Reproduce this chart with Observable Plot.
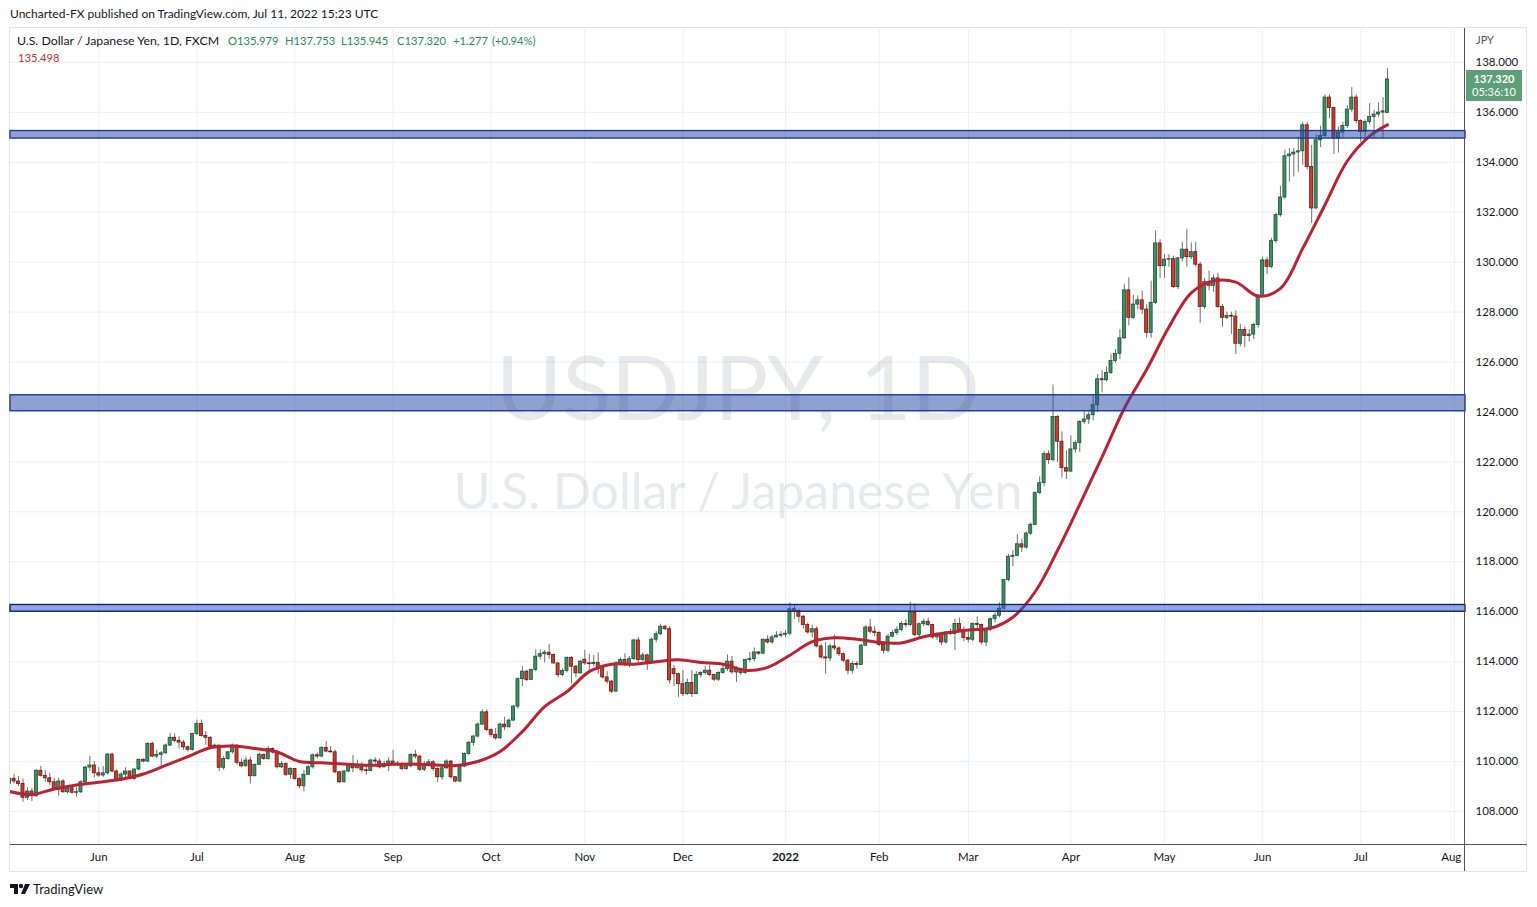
<!DOCTYPE html>
<html><head><meta charset="utf-8">
<script src="https://cdn.jsdelivr.net/npm/d3@7"></script>
<script src="https://cdn.jsdelivr.net/npm/@observablehq/plot@0.6"></script>
<style>
body{margin:0;background:#fff;font-family:Lato,"Open Sans",sans-serif;color:#131722}
#root{position:relative;width:1537px;height:907px;overflow:hidden;background:#fff}
.abs{position:absolute;white-space:nowrap;line-height:14px}
</style></head><body><div id="root">
<div class="abs" style="left:10px;top:7px;font-size:12px;color:#131722">Uncharted-FX published on TradingView.com, Jul 11, 2022 15:23 UTC</div>
<div class="abs" style="left:9px;top:27px;width:1518px;height:845px;border:1px solid #e0e3eb;box-sizing:border-box"></div>
<div id="chart" class="abs" style="left:10px;top:28px"></div>
<div class="abs" style="left:10px;top:844px;width:1517px;height:1px;background:#50535e"></div>
<div class="abs" style="left:1464px;top:28px;width:1px;height:843px;background:#50535e"></div>
<div id="legend"></div>
<div class="abs" style="left:1476px;top:33px;font-size:11px;color:#50535e">JPY</div>
<div id="lastbox" class="abs" style="left:1466px;width:56px;height:31px;background:#5c9f79;color:#fff;font-size:11px;text-align:center;line-height:13px;padding-top:2px;box-sizing:border-box"></div>
<div class="abs" style="left:10px;top:882px;height:14px">
  <svg width="22" height="12" viewBox="0 0 22 12"><path d="M0 1h8v10H4V5H0z" fill="#131722"/><circle cx="11" cy="3" r="2.2" fill="#131722"/><path d="M15 1h5l-5 10h-4z" fill="#131722"/></svg>
</div>
<div class="abs" style="left:33px;top:882px;font-size:13px;color:#131722">TradingView</div>
</div>
<script>
// ---- Daily candles, [open, high, low, close] ----
const may2021 = [[109.11,109.40,109.05,109.31],[109.31,109.48,109.10,109.20],[109.20,109.40,109.00,109.10],[109.10,109.30,108.37,108.55],[108.55,108.95,108.44,108.80],[108.80,108.93,108.40,108.61],[108.61,109.68,108.57,109.63],[109.63,109.81,109.38,109.43],[109.43,109.63,109.17,109.33],[109.33,109.53,109.04,109.17],[109.17,109.33,108.84,108.87],[108.87,109.33,108.61,109.20],[109.20,109.28,108.73,108.77],[108.77,108.96,108.70,108.93],[108.93,108.97,108.70,108.75],[108.75,108.95,108.57,108.77],[108.77,109.24,108.72,109.17],[109.17,109.80,109.10,109.76],[109.76,110.21,109.61,109.84],[109.84,110.00,109.35,109.53]];
const jun2021 = [[109.53,109.76,109.37,109.44],[109.44,109.80,109.37,109.53],[109.53,110.32,109.45,110.28],[110.28,110.33,109.55,109.60],[109.60,109.66,109.18,109.24],[109.24,109.55,109.20,109.48],[109.48,109.75,109.35,109.60],[109.60,109.62,109.26,109.30],[109.30,109.70,109.25,109.68],[109.68,110.10,109.62,110.07],[110.07,110.10,109.95,110.00],[110.00,110.75,109.95,110.71],[110.71,110.78,110.15,110.20],[110.20,110.45,110.12,110.27],[110.27,110.40,109.70,110.33],[110.33,110.70,110.30,110.64],[110.64,111.13,110.60,110.95],[110.95,111.11,110.75,110.83],[110.83,111.00,110.50,110.76],[110.76,110.85,110.45,110.57],[110.57,110.62,110.38,110.47],[110.47,111.13,110.42,111.10]];
const jul2021 = [[111.10,111.66,111.05,111.50],[111.50,111.66,110.98,111.02],[111.02,111.20,110.65,110.95],[110.95,111.00,110.55,110.60],[110.60,110.70,110.50,110.64],[110.64,110.65,109.60,109.75],[109.75,110.20,109.65,110.10],[110.10,110.40,110.05,110.37],[110.37,110.70,110.30,110.64],[110.64,110.67,109.85,109.95],[109.95,110.10,109.75,109.81],[109.81,110.17,109.78,110.04],[110.04,110.17,109.10,109.41],[109.41,109.90,109.40,109.87],[109.87,110.33,109.85,110.27],[110.27,110.30,110.05,110.10],[110.10,110.60,110.05,110.50],[110.50,110.55,110.30,110.37],[110.37,110.45,109.70,109.77],[109.77,110.00,109.72,109.90],[109.90,109.95,109.40,109.47],[109.47,109.75,109.30,109.70]];
const aug2021 = [[109.70,109.72,109.25,109.30],[109.30,109.35,108.90,109.01],[109.01,109.64,108.78,109.47],[109.47,109.85,109.45,109.77],[109.77,110.30,109.70,110.25],[110.25,110.35,110.10,110.20],[110.20,110.60,110.15,110.55],[110.55,110.80,110.35,110.40],[110.40,110.60,110.34,110.37],[110.37,110.45,109.50,109.57],[109.57,109.60,109.12,109.17],[109.17,109.65,109.15,109.60],[109.60,109.90,109.55,109.81],[109.81,110.24,109.55,109.73],[109.73,110.05,109.70,109.85],[109.85,109.95,109.55,109.65],[109.65,109.80,109.45,109.62],[109.62,110.10,109.60,110.04],[110.04,110.15,109.90,110.00],[110.00,110.10,109.70,109.77],[109.77,110.00,109.75,109.90],[109.90,110.15,109.60,110.00]];
const sep2021 = [[110.00,110.45,109.85,109.92],[109.92,110.00,109.80,109.88],[109.88,109.95,109.65,109.70],[109.70,109.90,109.65,109.81],[109.81,110.30,109.75,110.27],[110.27,110.45,110.10,110.20],[110.20,110.25,109.60,109.67],[109.67,110.00,109.60,109.87],[109.87,110.08,109.80,109.97],[109.97,110.05,109.60,109.70],[109.70,109.75,109.15,109.37],[109.37,109.80,109.25,109.73],[109.73,110.07,109.68,110.00],[110.00,110.05,109.30,109.37],[109.37,109.40,109.15,109.20],[109.20,109.85,109.15,109.80],[109.80,110.35,109.75,110.30],[110.30,110.80,110.25,110.75],[110.75,111.05,110.60,111.00],[111.00,111.55,110.95,111.48],[111.48,112.07,111.45,111.97],[111.97,112.07,111.20,111.27]];
const oct2021 = [[111.27,111.30,110.97,111.07],[111.07,111.33,110.85,110.93],[110.93,111.55,110.90,111.48],[111.48,111.77,111.24,111.37],[111.37,111.70,111.35,111.64],[111.64,112.25,111.60,112.20],[112.20,113.35,112.10,113.30],[113.30,113.80,113.00,113.60],[113.60,113.65,113.20,113.27],[113.27,113.70,113.25,113.67],[113.67,114.47,113.60,114.20],[114.20,114.47,114.07,114.30],[114.30,114.45,113.95,114.36],[114.36,114.70,114.10,114.27],[114.27,114.30,113.88,113.93],[113.93,113.95,113.35,113.47],[113.47,113.72,113.40,113.63],[113.63,114.20,113.55,114.15],[114.15,114.20,113.10,113.80],[113.80,113.85,113.35,113.53],[113.53,114.05,113.50,114.00]];
const nov2021 = [[114.07,114.45,113.85,113.93],[113.93,114.30,113.60,113.90],[113.90,114.25,113.80,113.95],[113.95,114.35,113.50,113.75],[113.75,113.80,113.30,113.37],[113.37,113.60,113.10,113.20],[113.20,113.25,112.72,112.80],[112.80,114.00,112.78,113.93],[113.93,114.15,113.85,114.07],[114.07,114.32,113.80,113.87],[113.87,114.20,113.75,114.10],[114.10,114.90,114.05,114.85],[114.85,114.97,113.95,114.07],[114.07,114.35,114.00,114.25],[114.25,114.30,113.65,113.97],[113.97,114.95,113.90,114.88],[114.88,115.20,114.75,115.10],[115.10,115.50,115.05,115.40],[115.40,115.45,115.25,115.30],[115.30,115.40,113.10,113.25],[113.70,113.85,113.00,113.50],[113.50,113.55,112.57,113.10]];
const dec2021 = [[113.10,113.65,112.60,112.71],[112.71,113.30,112.65,113.15],[113.15,113.64,112.57,112.70],[112.70,113.60,112.68,113.47],[113.47,113.60,113.35,113.55],[113.55,113.80,113.45,113.64],[113.64,113.85,113.40,113.47],[113.47,113.50,113.20,113.28],[113.28,113.60,113.20,113.55],[113.55,113.85,113.50,113.70],[113.70,114.27,113.60,114.00],[114.00,114.20,113.50,113.57],[113.57,113.80,113.17,113.70],[113.70,113.75,113.45,113.55],[113.55,114.10,113.50,114.07],[114.07,114.37,113.97,114.10],[114.10,114.55,114.00,114.37],[114.37,114.40,114.25,114.32],[114.32,114.90,114.30,114.88],[114.88,115.04,114.70,114.77],[114.77,115.05,114.70,114.97],[114.97,115.20,114.95,115.04],[115.04,115.20,114.95,115.08]];
const jan2022 = [[115.08,115.25,114.95,115.12],[115.12,116.35,115.05,116.10],[116.10,116.27,115.70,116.03],[116.03,116.10,115.55,115.80],[115.80,115.85,115.30,115.47],[115.47,115.55,115.10,115.17],[115.17,115.45,114.95,115.30],[115.30,115.40,114.55,114.61],[114.61,114.70,114.10,114.17],[114.17,114.77,113.50,114.13],[114.13,114.70,114.00,114.61],[114.61,115.06,114.45,114.53],[114.53,114.60,114.20,114.30],[114.30,114.35,113.95,114.04],[114.04,114.10,113.47,113.64],[113.64,114.00,113.50,113.91],[113.91,114.00,113.70,113.87],[113.87,114.70,113.85,114.64],[114.64,115.45,114.60,115.37],[115.37,115.70,115.10,115.20],[115.20,115.40,115.00,115.15]];
const feb2022 = [[115.15,115.20,114.60,114.67],[114.67,114.75,114.30,114.44],[114.44,115.10,114.35,115.00],[115.00,115.25,114.95,115.15],[115.15,115.40,115.05,115.27],[115.27,115.60,115.20,115.51],[115.51,115.68,115.35,115.47],[115.47,116.37,115.40,115.97],[115.97,116.30,115.00,115.07],[115.07,115.55,114.93,115.50],[115.50,115.70,115.40,115.60],[115.60,115.75,115.40,115.47],[115.47,115.50,114.90,114.97],[114.97,115.15,114.85,115.07],[115.07,115.15,114.65,114.77],[114.77,115.20,114.70,115.17],[115.17,115.30,115.05,115.11],[115.11,115.70,114.44,115.51],[115.51,115.75,115.20,115.27],[115.27,115.40,114.80,114.95]];
const mar2022 = [[114.95,115.20,114.75,114.88],[114.88,115.55,114.80,115.51],[115.51,115.80,115.30,115.47],[115.47,115.50,114.67,114.77],[114.77,115.35,114.60,115.30],[115.30,115.75,115.20,115.70],[115.70,115.95,115.55,115.84],[115.84,116.35,115.75,116.12],[116.12,117.30,116.05,117.27],[117.27,118.30,117.20,118.20],[118.20,118.45,117.80,118.24],[118.24,119.10,118.20,118.70],[118.70,118.90,118.37,118.57],[118.57,119.20,118.50,119.13],[119.13,119.55,119.05,119.48],[119.48,120.80,119.45,120.75],[120.75,121.40,120.70,121.15],[121.15,122.41,121.00,122.31],[122.31,122.45,121.90,122.07],[122.07,125.08,122.00,123.80],[123.80,123.85,121.97,122.81],[122.81,123.20,121.35,121.75],[121.75,122.44,121.30,121.61]];
const apr2022 = [[121.61,123.04,121.60,122.50],[122.50,122.85,122.35,122.75],[122.75,123.65,122.37,123.60],[123.60,124.05,123.50,123.70],[123.70,124.00,123.50,123.87],[123.87,124.68,123.64,124.27],[124.27,125.50,123.98,125.31],[125.31,125.65,124.77,125.27],[125.27,125.80,125.20,125.56],[125.56,126.30,125.50,126.04],[126.04,126.50,125.95,126.33],[126.33,127.30,126.10,126.95],[126.95,129.10,126.90,128.87],[128.87,129.37,127.44,127.77],[127.77,128.68,127.70,128.30],[128.30,128.65,128.10,128.47],[128.47,128.84,127.90,128.10],[128.10,128.30,126.95,127.17],[127.17,129.24,126.95,128.37],[128.37,131.24,128.30,130.75],[130.75,130.90,129.35,129.84]];
const may2022 = [[129.84,130.30,129.35,130.10],[130.10,130.30,129.80,130.12],[130.12,130.24,128.95,129.00],[129.00,130.20,128.90,130.15],[130.15,130.80,130.00,130.50],[130.50,131.30,129.80,130.20],[130.20,130.77,130.10,130.40],[130.40,130.80,129.80,129.90],[129.90,130.00,127.55,128.20],[128.20,129.35,128.10,129.20],[129.20,129.65,128.85,129.05],[129.05,129.50,128.80,129.35],[129.35,129.55,128.15,128.20],[128.20,128.30,127.40,127.77],[127.77,128.00,127.70,127.85],[127.85,128.00,127.10,127.82],[127.82,128.05,126.30,126.73],[126.73,127.50,126.60,127.28],[127.28,127.40,126.57,127.04],[127.04,127.30,126.80,127.10],[127.10,127.55,126.90,127.48],[127.48,128.70,127.35,128.64]];
const jun2022 = [[128.64,130.20,128.60,130.07],[130.07,130.20,129.50,129.81],[129.81,130.95,129.75,130.84],[130.84,131.95,130.75,131.88],[131.88,133.04,131.80,132.59],[132.59,134.48,132.50,134.24],[134.24,134.55,133.21,134.31],[134.31,134.55,133.41,134.39],[134.39,135.00,133.60,134.44],[134.44,135.60,133.88,135.48],[135.48,135.60,133.70,133.81],[133.81,134.68,131.55,132.15],[132.15,135.10,132.10,134.88],[134.88,135.44,134.59,135.05],[135.05,136.71,135.00,136.59],[136.59,136.72,135.75,136.17],[136.17,136.20,134.31,134.95],[134.95,135.41,134.37,135.19],[135.19,135.61,135.00,135.45],[135.45,136.28,135.35,136.11],[136.11,136.99,136.00,136.59],[136.59,136.70,135.55,135.65]];
const jul2022 = [[135.65,135.70,134.81,135.21],[135.21,135.70,134.95,135.61],[135.61,136.35,135.50,135.81],[135.81,136.08,134.95,135.91],[135.91,136.37,135.80,135.99],[135.99,136.59,134.95,136.04],[135.979,137.753,135.945,137.320]];

// ---- Moving average (red line), value read every 5th bar, plus the last bar ----
const maEvery5 = [108.80,108.68,108.90,109.06,109.17,109.29,109.50,109.85,110.20,110.55,110.62,110.52,110.38,110.00,109.95,109.90,109.85,109.88,109.90,109.87,109.84,110.00,110.40,111.20,112.20,112.80,113.60,113.90,113.90,114.00,114.08,113.97,113.90,113.65,113.77,114.26,114.80,114.96,114.90,114.77,114.75,115.00,115.15,115.27,115.34,115.78,116.80,118.45,120.30,122.20,124.15,125.70,127.40,128.77,129.25,129.20,128.64,128.95,130.55,132.30,134.05,135.05];
const maLast = 135.50;

// ---- Horizontal zones ----
const zoneLow  = [134.95, 124.03, 116.00];
const zoneHigh = [135.25, 124.67, 116.27];
const zoneFill = ["#2a49a4", "#2a49a4", "#2155eb"];
const zoneEdge = ["#1a3aa0", "#1a3aa0", "#1c2447"];

// ---- Axis labels / header values ----
const monthLabels = ["Jun","Jul","Aug","Sep","Oct","Nov","Dec","2022","Feb","Mar","Apr","May","Jun","Jul","Aug"];
const priceTicks = [108,110,112,114,116,118,120,122,124,126,128,130,132,134,136,138];
const watermark = ["USDJPY, 1D", "U.S. Dollar / Japanese Yen"];
const headerChange = ["+1.277", "(+0.94%)"];
const maHeaderValue = 135.498;

// ---- build ----
const candles = [...may2021,...jun2021,...jul2021,...aug2021,...sep2021,...oct2021,...nov2021,...dec2021,...jan2022,...feb2022,...mar2022,...apr2022,...may2022,...jun2022,...jul2022]
  .map((d,i)=>({i,o:d[0],h:d[1],l:d[2],c:d[3]}));
const last = candles[candles.length-1];
// trading-day calendar (Mon-Fri) from the first candle, extended into the future for the axis
const dates = [];
for (let t = new Date(Date.UTC(2021,4,4)); dates.length < candles.length + 20; t.setUTCDate(t.getUTCDate()+1)) {
  const wd = t.getUTCDay(); if (wd !== 0 && wd !== 6) dates.push(new Date(t));
}
const monthTicks = [];
dates.forEach((d,i)=>{ if (i>0 && d.getUTCMonth() !== dates[i-1].getUTCMonth()) monthTicks.push(i); });
const ticks = monthTicks.map((i,k)=>({i, label: monthLabels[k], k}));
const lastTick = ticks.length - 1;
const maPts = maEvery5.map((v,k)=>({i:k*5, v})).concat([{i:last.i, v:maLast}]);
const zones = zoneLow.map((lo,k)=>({lo, hi:zoneHigh[k], fill:zoneFill[k], edge:zoneEdge[k]}));
const xDomain = [0.2, last.i + 17.5];
const yDomain = [106.638, 139.357];
const up = d => d.c >= d.o;

const chart = Plot.plot({
  width: 1517, height: 843,
  marginLeft: 0, marginRight: 62, marginTop: 0, marginBottom: 26,
  x: {type: "linear", domain: xDomain, axis: null},
  y: {domain: yDomain, axis: null},
  style: {fontFamily: "Lato, sans-serif", fontSize: "12px", color: "#131722", background: "transparent", overflow: "visible"},
  marks: [
    Plot.gridY(priceTicks, {stroke: "#eceff3", strokeOpacity: 1}),
    Plot.gridX(monthTicks, {stroke: "#eceff3", strokeOpacity: 1}),
    Plot.text([watermark[0]], {frameAnchor: "middle", dy: -46, text: d=>d, fontSize: 90, fill: "#787b86", fillOpacity: 0.17}),
    Plot.text([watermark[1]], {frameAnchor: "middle", dy: 56, text: d=>d, fontSize: 50, fill: "#787b86", fillOpacity: 0.17}),
    Plot.ruleX(candles, {x: "i", y1: "l", y2: "h", stroke: "#6f6f6f", strokeWidth: 1, clip: true}),
    Plot.rect(candles, {x1: d=>d.i-0.34, x2: d=>d.i+0.34, y1: "o", y2: "c",
      fill: d => up(d) ? "#3e9063" : "#d23a2c", stroke: d => up(d) ? "#1e4f33" : "#5e1a14", strokeWidth: 0.8, clip: true}),
    Plot.line(maPts, {x: "i", y: "v", curve: "catmull-rom", stroke: "#bb2232", strokeWidth: 3, clip: true}),
    Plot.rect(zones, {x1: ()=>xDomain[0], x2: ()=>xDomain[1], y1: "lo", y2: "hi", fill: "fill", fillOpacity: 0.52, stroke: "edge", strokeWidth: 1.4}),
    Plot.axisY(priceTicks, {anchor: "right", tickSize: 0, tickPadding: 10, tickFormat: d3.format(".3f"), fontSize: 11.5, label: null, fill: "#131722"}),
    Plot.text(ticks.filter(t=>t.label!=="2022" && t.k!==lastTick), {x: "i", text: "label", frameAnchor: "bottom", dy: 15, fontSize: 11.5, fill: "#131722"}),
    Plot.text(ticks.filter(t=>t.k===lastTick), {x: "i", text: "label", frameAnchor: "bottom", dy: 15, dx: 7, textAnchor: "end", fontSize: 11.5, fill: "#131722"}),
    Plot.text(ticks.filter(t=>t.label==="2022"), {x: "i", text: "label", frameAnchor: "bottom", dy: 15, fontSize: 11.5, fontWeight: "bold", fill: "#131722"})
  ]
});
document.getElementById("chart").appendChild(chart);

// legend row
const fmt = d3.format(".3f");
const legendItems = [
  {x:17, y:34, t:"U.S. Dollar / Japanese Yen, 1D, FXCM", c:"#131722", s:12.3},
  {x:228, y:34, t:"O" + fmt(last.o), c:"#2a8a5a", s:11.2},
  {x:285, y:34, t:"H" + fmt(last.h), c:"#2a8a5a", s:11.2},
  {x:341, y:34, t:"L" + fmt(last.l), c:"#2a8a5a", s:11.2},
  {x:397, y:34, t:"C" + fmt(last.c), c:"#2a8a5a", s:11.2},
  {x:453, y:34, t:headerChange[0], c:"#2a8a5a", s:11.2},
  {x:492, y:34, t:headerChange[1], c:"#2a8a5a", s:11.2},
  {x:18, y:51, t:fmt(maHeaderValue), c:"#c62f3a", s:11.2}
];
document.getElementById("legend").innerHTML = legendItems.map(d =>
  `<div class="abs" style="left:${d.x}px;top:${d.y}px;font-size:${d.s}px;color:${d.c}">${d.t}</div>`).join("");

// last price box
const yS = chart.scale("y");
const box = document.getElementById("lastbox");
box.style.top = (28 + yS.apply(last.c) - 8.5) + "px";
box.innerHTML = `<div style="font-weight:bold">${fmt(last.c)}</div><div>05:36:10</div>`;
</script>
</body></html>
